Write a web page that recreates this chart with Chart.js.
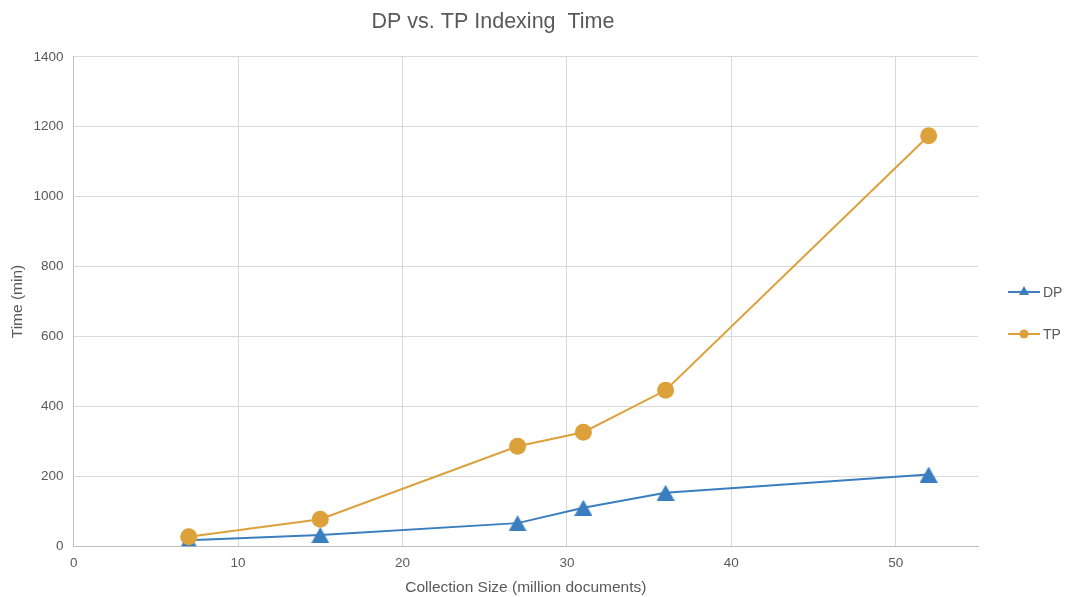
<!DOCTYPE html>
<html>
<head>
<meta charset="utf-8">
<title>DP vs. TP Indexing Time</title>
<script src="https://cdn.jsdelivr.net/npm/chart.js@4/dist/chart.umd.min.js"></script>
<style>
  html, body { margin: 0; padding: 0; background: #fff; }
  #wrap { width: 1066px; height: 597px; position: relative; }
</style>
</head>
<body>
<div id="wrap"><canvas id="chart"></canvas></div>
<script>
const collectionSizes = [7, 15, 27, 31, 36, 52];
const dpTimes = [17, 32, 66, 110, 153, 205];
const tpTimes = [27, 77, 286, 326, 446, 1174];
const xTicks = [0, 10, 20, 30, 40, 50];

const DP_COLOR = '#3b7ebf';
const TP_COLOR = '#dca13a';
const TEXT = '#595959';
const FONT = '"Liberation Sans", Arial, sans-serif';

function pairs(ys) {
  return collectionSizes.map((x, i) => ({ x, y: ys[i] }));
}

// triangle marker centred on its bounding box, like the original
function triangleMarker(w, h, color) {
  const c = document.createElement('canvas');
  c.width = w;
  c.height = h;
  const g = c.getContext('2d');
  g.fillStyle = color;
  g.beginPath();
  g.moveTo(w / 2, 0);
  g.lineTo(w, h);
  g.lineTo(0, h);
  g.closePath();
  g.fill();
  return c;
}

// legend: short line with the marker in the middle, placed right of the plot
const sideLegend = {
  id: 'sideLegend',
  afterDraw(chart) {
    const { ctx, chartArea } = chart;
    const x0 = chartArea.right + 30;
    const rows = [292, 334];
    chart.data.datasets.forEach((ds, i) => {
      const y = rows[i];
      ctx.save();
      ctx.strokeStyle = ds.borderColor;
      ctx.lineWidth = 2;
      ctx.beginPath();
      ctx.moveTo(x0, y);
      ctx.lineTo(x0 + 32, y);
      ctx.stroke();
      ctx.fillStyle = ds.borderColor;
      ctx.beginPath();
      if (ds.label === 'DP') {
        ctx.moveTo(x0 + 16, y - 6);
        ctx.lineTo(x0 + 21, y + 3);
        ctx.lineTo(x0 + 11, y + 3);
        ctx.closePath();
      } else {
        ctx.arc(x0 + 16, y, 4.5, 0, Math.PI * 2);
      }
      ctx.fill();
      ctx.fillStyle = TEXT;
      ctx.font = '14px ' + FONT;
      ctx.textBaseline = 'middle';
      ctx.fillText(ds.label, x0 + 35, y + 1);
      ctx.restore();
    });
  },
};

new Chart(document.getElementById('chart'), {
  type: 'line',
  data: {
    datasets: [
      {
        label: 'DP',
        data: pairs(dpTimes),
        borderColor: DP_COLOR,
        backgroundColor: DP_COLOR,
        borderWidth: 2,
        pointStyle: triangleMarker(18, 16, DP_COLOR),
        pointRadius: 9,
        pointHoverRadius: 9,
        pointBorderWidth: 0,
        tension: 0,
        order: 1,
      },
      {
        label: 'TP',
        data: pairs(tpTimes),
        borderColor: TP_COLOR,
        backgroundColor: TP_COLOR,
        borderWidth: 2,
        pointStyle: 'circle',
        pointRadius: 8.5,
        pointHoverRadius: 8.5,
        pointBorderWidth: 0,
        tension: 0,
        order: 0,
      },
    ],
  },
  options: {
    responsive: true,
    maintainAspectRatio: false,
    animation: false,
    layout: { padding: { left: 8, right: 88, top: 0, bottom: 0 } },
    plugins: {
      legend: { display: false },
      tooltip: { enabled: false },
      title: {
        display: true,
        text: 'DP vs. TP Indexing  Time',
        color: TEXT,
        font: { family: FONT, size: 21.5, weight: 'normal' },
        padding: { top: 9, bottom: 22 },
      },
    },
    scales: {
      x: {
        type: 'linear',
        min: 0,
        max: 55,
        afterBuildTicks: (scale) => { scale.ticks = xTicks.map((value) => ({ value })); },
        ticks: { color: TEXT, font: { family: FONT, size: 13.5 }, padding: 9 },
        grid: { color: '#d9d9d9', drawTicks: false },
        border: { color: '#bfbfbf' },
        title: {
          display: true,
          text: 'Collection Size (million documents)',
          color: TEXT,
          font: { family: FONT, size: 15.5 },
          padding: { top: -2, bottom: 0 },
        },
      },
      y: {
        min: 0,
        max: 1400,
        ticks: {
          stepSize: 200,
          color: TEXT,
          font: { family: FONT, size: 13.5 },
          padding: 10,
          callback: (v) => String(v),
        },
        grid: { color: '#d9d9d9', drawTicks: false },
        border: { color: '#bfbfbf' },
        title: {
          display: true,
          text: 'Time (min)',
          color: TEXT,
          font: { family: FONT, size: 15.5 },
          padding: { top: 0, bottom: -3 },
        },
      },
    },
  },
  plugins: [sideLegend],
});
</script>
</body>
</html>
